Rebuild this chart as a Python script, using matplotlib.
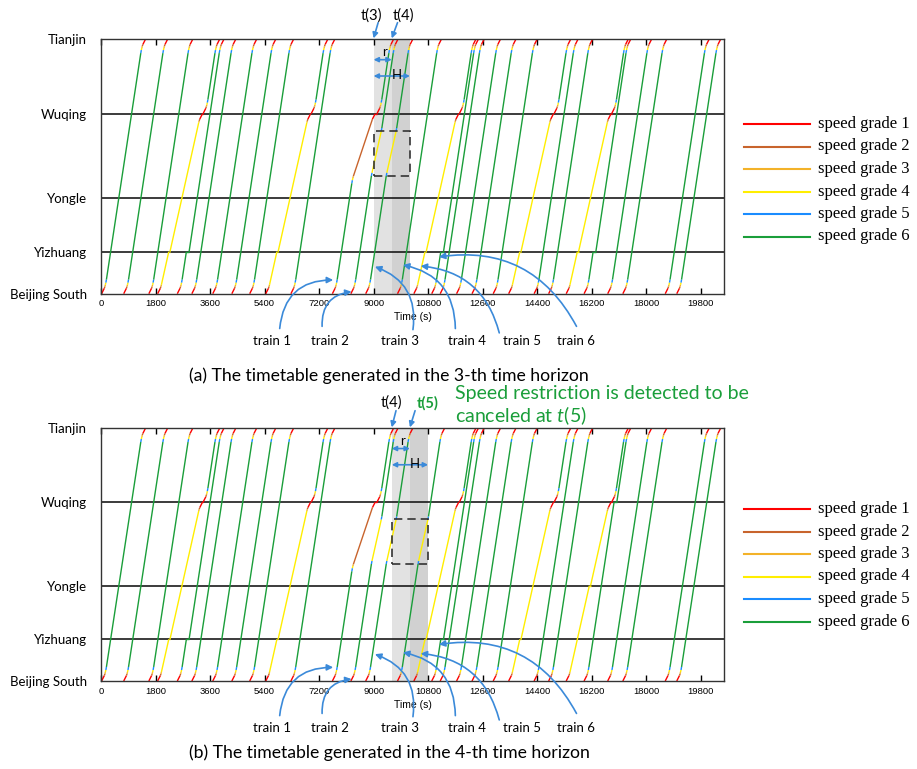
import matplotlib
matplotlib.use('Agg')
import matplotlib.pyplot as plt
from matplotlib.collections import LineCollection
from matplotlib.patches import Rectangle

plt.rcParams['mathtext.fontset'] = 'custom'
plt.rcParams['mathtext.it'] = 'Lato:italic'
plt.rcParams['mathtext.rm'] = 'Lato'

# stations and their distance from Beijing South (km)
stations = ['Beijing South', 'Yizhuang', 'Yongle', 'Wuqing', 'Tianjin']
station_km = [0.0, 19.3, 44.1, 82.7, 117.0]

grade_labels = ['speed grade 1', 'speed grade 2', 'speed grade 3',
                'speed grade 4', 'speed grade 5', 'speed grade 6']
grade_colors = ['#ff0000', '#c8642d', '#f3b229', '#ffee00', '#1a8cff', '#1a9e3a']
grade_speed = [100, 150, 190, 225, 270, 330]      # km/h
ramp_km = [2.5, 0.8, 0.8, 1.0, 1.4]              # distance run in grades 1-5 while speeding up / braking

x_ticks = [0, 1800, 3600, 5400, 7200, 9000, 10800, 12600, 14400, 16200, 18000, 19800]
t_max = 20570

# departure times at Beijing South (s) and the running pattern of every train
dep_a = [20, 750, 1580, 1870, 2520, 3000, 3690, 4320, 4910, 5440, 6270, 7640, 8250, 8740,
         9790, 10330, 10920, 11200, 11740, 12250, 12950, 13460, 14300, 14780, 15360, 15950,
         16730, 17230, 18630, 19010]
kind_a = ['E', 'E', 'E', 'Y', 'K', 'E', 'E', 'E', 'E', 'Y', 'E', 'R', 'B', 'B',
          'E', 'Y', 'K', 'E', 'E', 'E', 'E', 'Y', 'E', 'E', 'Y', 'K',
          'E', 'E', 'E', 'E']
dep_b = list(dep_a)
kind_b = ['E', 'E', 'E', 'Y', 'K', 'E', 'E', 'E', 'E', 'Y', 'E', 'R', 'B', 'B',
          'B', 'Y', 'K', 'E', 'E', 'E', 'E', 'Y', 'E', 'E', 'YL', 'KW',
          'E', 'E', 'E', 'E']

box_km = (54.1, 74.7)                 # speed restricted section
horizon_a = (9000, 9600, 10200)       # t(3), t(4), t(3)+H
horizon_b = (9600, 10200, 10800)      # t(4), t(5), t(4)+H

# (grade, end km, event at end, seconds)
YZ, YL, WQ, TJ = station_km[1], station_km[2], station_km[3], station_km[4]
plans = {
    'E': [(6, TJ, 'stop', 0)],
    'K': [(6, YZ, 'hold', 90), (6, TJ, 'stop', 0)],
    'KW': [(6, WQ, 'hold', 90), (6, TJ, 'stop', 0)],
    'Y': [(4, YZ, 'hold', 40), (4, WQ, 'stop', 20), (6, TJ, 'stop', 0)],
    'YL': [(4, YL, 'hold', 40), (4, WQ, 'stop', 20), (6, TJ, 'stop', 0)],
    'B': [(6, box_km[0], None, 0), (4, box_km[1], None, 0), (6, TJ, 'stop', 0)],
    'R': [(6, 50.7, None, 0), (2, WQ, 'stop', 60), (6, TJ, 'stop', 0)],
}


def trajectory(dep, plan):
    segs = []
    t, km, prev = dep, 0.0, 0
    for g, end, event, secs in plan:
        if prev == 0:
            ramp = list(range(1, g))
        elif prev < g:
            ramp = list(range(prev + 1, g))
        else:
            ramp = list(range(prev - 1, g, -1))
        out = list(range(g - 1, 0, -1)) if event == 'stop' else []
        head = [(r, ramp_km[r - 1]) for r in ramp]
        tail = [(r, ramp_km[r - 1]) for r in out]
        cruise = end - km - sum(l for _, l in head) - sum(l for _, l in tail)
        for r, l in head + [(g, cruise)] + tail:
            dt = l / grade_speed[r - 1] * 3600
            segs.append(([(t, km), (t + dt, km + l)], r))
            t += dt
            km += l
        if event in ('stop', 'hold') and secs > 0:
            segs.append(([(t, km), (t + secs, km)], 1 if event == 'stop' else g))
            t += secs
        prev = 0 if event == 'stop' else g
    return segs


W, H = 917, 769


def fx(x):
    return x / W


def fy(y):
    return 1 - y / H


fig = plt.figure(figsize=(9.17, 7.69), dpi=100)
ax_a = fig.add_axes([fx(101), fy(293.7), (724 - 101) / W, 254.7 / H])
ax_b = fig.add_axes([fx(101), fy(681), (724 - 101) / W, 253 / H])

blue = '#3b8ad9'
train_notes = [  # label, head (t, km), tail (t, km), text t, curvature
    ('train 1', (7666, 6.3), (5900, -16.0), 5658, -0.45),
    ('train 2', (8274, 0.9), (7300, -15.0), 7557, -0.45),
    ('train 3', (9044, 12.4), (10300, -16.5), 9866, 0.4),
    ('train 4', (9968, 13.2), (11700, -16.0), 12099, 0.4),
    ('train 5', (10553, 12.7), (13150, -18.0), 13889, 0.35),
    ('train 6', (11157, 16.9), (15700, -15.0), 15682, 0.35),
]


def draw_chart(ax, deps, kinds, horizon):
    h0, h1, h2 = horizon
    ax.axvspan(h0, h1, color='#e2e2e2', lw=0, zorder=0)
    ax.axvspan(h1, h2, color='#d1d1d1', lw=0, zorder=0)
    for km in station_km[1:-1]:
        ax.axhline(km, color='#1a1a1a', lw=1.2, zorder=1)

    by_grade = {g: [] for g in range(1, 7)}
    for dep, kind in zip(deps, kinds):
        for seg, g in trajectory(dep, plans[kind]):
            by_grade[g].append(seg)
    for g, segs in by_grade.items():
        ax.add_collection(LineCollection(segs, colors=grade_colors[g - 1], lw=1.0, zorder=2))

    ax.add_patch(Rectangle((h0, box_km[0]), h2 - h0, box_km[1] - box_km[0], fill=False,
                           ec='#333333', lw=1.2, ls=(0, (5, 3)), zorder=4))

    ax.set_xlim(0, t_max)
    ax.set_ylim(0, TJ)
    ax.set_yticks(station_km, stations, family='Lato', fontsize=9.5)
    ax.tick_params(axis='y', length=0, pad=10)
    ax.set_xticks(x_ticks, [str(v) for v in x_ticks], family='Liberation Sans', fontsize=6.8)
    ax.tick_params(axis='x', direction='in', top=True, length=4, width=1, pad=4)
    ax.set_xlabel('Time (s)', family='Liberation Sans', fontsize=7.5, labelpad=3)
    for s in ax.spines.values():
        s.set_color('#333333')
        s.set_linewidth(1.0)

    # horizon arrows
    kw = dict(arrowstyle='<|-|>', color=blue, lw=1.2, mutation_scale=7, shrinkA=0, shrinkB=0)
    ax.annotate('', xy=(h0, 107.5), xytext=(h1, 107.5), arrowprops=kw, annotation_clip=False)
    ax.annotate('', xy=(h0, 100.0), xytext=(h2, 100.0), arrowprops=kw, annotation_clip=False)
    ax.text((h0 + h1) / 2 + 70, 108.2, 'r', ha='center', va='bottom', fontsize=9.5, family='Lato')
    ax.text(h0 + 0.64 * (h2 - h0), 100.4, 'H', ha='center', va='center', fontsize=9.5, family='Lato')

    for label, head, tail, tx, rad in train_notes:
        ax.annotate('', xy=head, xytext=tail, annotation_clip=False,
                    arrowprops=dict(arrowstyle='-|>', color=blue, lw=1.2, mutation_scale=9,
                                    shrinkA=0, shrinkB=0, connectionstyle=f'arc3,rad={rad}'))
        ax.text(tx, -21.7, label, ha='center', va='center', fontsize=9.5, family='Lato',
                clip_on=False)


draw_chart(ax_a, dep_a, kind_a, horizon_a)
draw_chart(ax_b, dep_b, kind_b, horizon_b)

tkw = dict(arrowstyle='-|>', color=blue, lw=1.2, mutation_scale=8, shrinkA=0, shrinkB=0)
ax_a.annotate('', xy=(9000, 117.3), xytext=(9150, 124.5), arrowprops=tkw, annotation_clip=False)
ax_a.annotate('', xy=(9600, 117.3), xytext=(9790, 124.5), arrowprops=tkw, annotation_clip=False)
ax_a.text(8935, 127.8, 't(3)', ha='center', va='center', fontsize=10.5, family='Lato', clip_on=False)
ax_a.text(9978, 127.8, 't(4)', ha='center', va='center', fontsize=10.5, family='Lato', clip_on=False)

ax_b.annotate('', xy=(9600, 117.3), xytext=(9740, 125.0), arrowprops=tkw, annotation_clip=False)
ax_b.annotate('', xy=(10200, 117.3), xytext=(10370, 125.0), arrowprops=tkw, annotation_clip=False)
ax_b.text(9595, 128.6, 't(4)', ha='center', va='center', fontsize=10.5, family='Lato', clip_on=False)
ax_b.text(10794, 128.6, 't(5)', ha='center', va='center', fontsize=10.5, family='Lato',
          color='#1a9e3a', weight='bold', clip_on=False)

fig.text(fx(455), fy(393), 'Speed restriction is detected to be', color='#1a9e3a',
         fontsize=14, family='Lato', va='center')
fig.text(fx(455), fy(416), 'canceled at $t$(5)', color='#1a9e3a',
         fontsize=14, family='Lato', va='center')

fig.text(fx(389), fy(376), '(a) The timetable generated in the 3-th time horizon',
         ha='center', va='center', fontsize=12.7, family='Lato')
fig.text(fx(389), fy(753), '(b) The timetable generated in the 4-th time horizon',
         ha='center', va='center', fontsize=12.7, family='Lato')

# legends
for y0 in (124, 509):
    for i, (lab, col) in enumerate(zip(grade_labels, grade_colors)):
        y = y0 + i * 22.5
        fig.add_artist(plt.Line2D([fx(744), fx(810)], [fy(y), fy(y)], color=col, lw=1.5))
        fig.text(fx(818), fy(y), lab, fontsize=12, family='Liberation Serif', va='center')

fig.savefig('out.png', dpi=100)
